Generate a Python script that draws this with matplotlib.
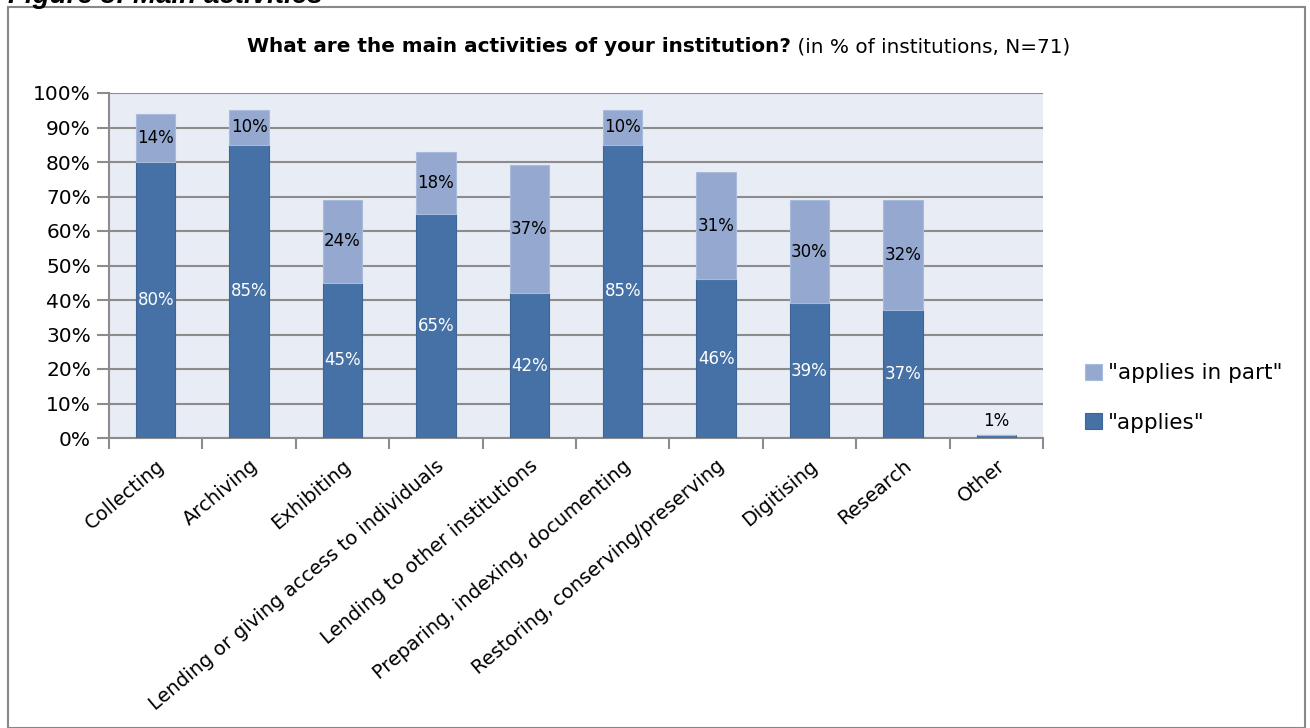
import matplotlib.pyplot as plt
from matplotlib.patches import Rectangle
from matplotlib.ticker import FixedLocator, PercentFormatter

plt.rcParams['font.family'] = ['DejaVu Sans']

activities = ['Collecting', 'Archiving', 'Exhibiting',
              'Lending or giving access to individuals',
              'Lending to other institutions',
              'Preparing, indexing, documenting',
              'Restoring, conserving/preserving',
              'Digitising', 'Research', 'Other']
applies = [80, 85, 45, 65, 42, 85, 46, 39, 37, 1]
applies_in_part = [14, 10, 24, 18, 37, 10, 31, 30, 32, 0]

dark_blue = '#4671a6'
light_blue = '#95a9d0'
grid_grey = '#8c8c8c'

fig = plt.figure(figsize=(13.1, 7.28), dpi=100)

# outer chart frame
fig.patches.append(Rectangle((8 / 1310, 0), 1297 / 1310, 1 - 7 / 728,
                             transform=fig.transFigure, fill=False,
                             edgecolor='#888888', linewidth=1.5))
fig.text(8 / 1310, 1 - 3 / 728, 'Figure 3: Main activities', fontsize=20,
         fontweight='bold', fontstyle='italic', family='Liberation Sans',
         ha='left', va='baseline')

ax = fig.add_axes([109 / 1310, 1 - 438 / 728, 934 / 1310, 345 / 728])
ax.set_facecolor('#e8ecf4')

x = range(len(activities))
ax.bar(x, applies, width=0.42, color=dark_blue, edgecolor='#3e6596',
       linewidth=0.8, zorder=3, label='"applies"')
ax.bar(x, applies_in_part, width=0.42, bottom=applies, color=light_blue,
       edgecolor='#a9bbdb', linewidth=0.8, zorder=3, label='"applies in part"')

for i, (a, p) in enumerate(zip(applies, applies_in_part)):
    if a >= 5:
        ax.text(i, a / 2, f'{a}%', ha='center', va='center', color='white',
                fontsize=12, zorder=4)
    else:
        ax.text(i, a + 1.2, f'{a}%', ha='center', va='bottom', color='black',
                fontsize=12, zorder=4)
    if p > 0:
        ax.text(i, a + p / 2, f'{p}%', ha='center', va='center',
                color='black', fontsize=12, zorder=4)

ax.set_xlim(-0.5, len(activities) - 0.5)
ax.set_ylim(0, 100)
ax.set_yticks(range(0, 101, 10))
ax.yaxis.set_major_formatter(PercentFormatter(decimals=0))
ax.yaxis.grid(True, color=grid_grey, linewidth=1.5, zorder=0)
ax.tick_params(axis='y', length=9, width=1.5, color=grid_grey,
               labelsize=14.5, pad=4)

ax.set_xticks(list(x))
ax.set_xticklabels(activities, rotation=40, ha='right',
                   rotation_mode='anchor', fontsize=14)
ax.tick_params(axis='x', length=0, pad=13)
ax.xaxis.set_minor_locator(FixedLocator([i - 0.5 for i in range(len(activities) + 1)]))
ax.tick_params(axis='x', which='minor', length=8, width=1.5, color=grid_grey)

for side in ['top', 'right']:
    ax.spines[side].set_visible(False)
for side in ['left', 'bottom']:
    ax.spines[side].set_color(grid_grey)
    ax.spines[side].set_linewidth(1.5)

title_y = 1 - 47 / 728
t1 = fig.text(0.5, title_y, 'What are the main activities of your institution?',
              fontsize=14.4, fontweight='bold', ha='right', va='center')
t2 = fig.text(0.5, title_y, ' (in % of institutions, N=71)', fontsize=14.4,
              ha='left', va='center')
fig.canvas.draw()
r = fig.canvas.get_renderer()
w1 = t1.get_window_extent(r).width
w2 = t2.get_window_extent(r).width
start = 659 / 1310 - (w1 + w2) / 2 / 1310
t1.set_x(start + w1 / 1310)
t2.set_x(start + w1 / 1310)

handles, labels = ax.get_legend_handles_labels()
fig.legend(handles[::-1], labels[::-1], loc='center left',
           bbox_to_anchor=(1066 / 1310, 1 - 398 / 728), frameon=False,
           fontsize=15.5, handlelength=0.75, handleheight=0.75,
           handletextpad=0.3, labelspacing=1.35)

fig.savefig('out.png', dpi=100)
